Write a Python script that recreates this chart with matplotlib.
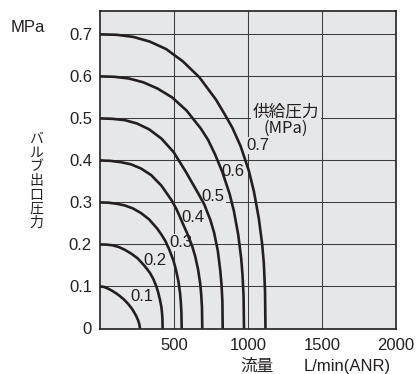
import matplotlib
matplotlib.use("Agg")
import matplotlib.pyplot as plt

plt.rcParams['font.family'] = ['Liberation Sans', 'Noto Sans CJK JP', 'DejaVu Sans']

# supply pressure curves: flow (L/min ANR) vs outlet pressure (MPa)
flow_01 = [0, 27, 54, 81, 108, 135, 162, 189, 216, 230, 243, 257, 265, 270]
pres_01 = [0.100, 0.099, 0.095, 0.090, 0.084, 0.077, 0.069, 0.059, 0.047, 0.039,
           0.031, 0.020, 0.011, 0]

flow_02 = [0, 42, 85, 127, 169, 212, 254, 296, 317, 338, 360, 381, 393, 406,
           415, 419, 422, 423]
pres_02 = [0.200, 0.1997, 0.198, 0.194, 0.187, 0.178, 0.167, 0.151, 0.142, 0.132,
           0.118, 0.100, 0.086, 0.067, 0.050, 0.037, 0.022, 0]

flow_03 = [0, 55, 110, 166, 221, 276, 331, 386, 414, 442, 469, 497, 513, 530,
           541, 546, 550, 552]
pres_03 = [0.300, 0.2995, 0.297, 0.293, 0.286, 0.275, 0.260, 0.238, 0.224, 0.208,
           0.187, 0.161, 0.140, 0.112, 0.084, 0.063, 0.038, 0]

flow_04 = [0, 69, 138, 207, 276, 346, 415, 484, 518, 553, 587, 622, 643, 663,
           677, 684, 689, 691]
pres_04 = [0.400, 0.399, 0.396, 0.391, 0.381, 0.365, 0.340, 0.305, 0.283, 0.255,
           0.228, 0.197, 0.172, 0.140, 0.107, 0.080, 0.050, 0]

flow_05 = [0, 83, 166, 249, 332, 415, 497, 580, 622, 663, 705, 746, 771, 796,
           812, 821, 827, 829]
pres_05 = [0.500, 0.499, 0.496, 0.488, 0.474, 0.452, 0.420, 0.373, 0.347, 0.322,
           0.295, 0.258, 0.228, 0.185, 0.140, 0.105, 0.064, 0]

flow_06 = [0, 97, 195, 292, 389, 487, 584, 681, 730, 778, 827, 876, 905, 934,
           954, 963, 970, 973]
pres_06 = [0.600, 0.599, 0.595, 0.586, 0.571, 0.550, 0.519, 0.476, 0.449, 0.414,
           0.372, 0.320, 0.279, 0.223, 0.167, 0.127, 0.077, 0]

flow_07 = [0, 112, 224, 335, 447, 559, 671, 783, 839, 894, 950, 1006, 1040, 1073,
           1096, 1107, 1115, 1118]
pres_07 = [0.700, 0.699, 0.694, 0.683, 0.665, 0.636, 0.598, 0.545, 0.512, 0.478,
           0.434, 0.375, 0.326, 0.262, 0.200, 0.155, 0.090, 0]

curve_flows = [flow_01, flow_02, flow_03, flow_04, flow_05, flow_06, flow_07]
curve_pres = [pres_01, pres_02, pres_03, pres_04, pres_05, pres_06, pres_07]

# curve labels and where they sit
curve_names = ['0.1', '0.2', '0.3', '0.4', '0.5', '0.6', '0.7']
name_x = [282, 372, 545, 630, 766, 901, 1064]
name_y = [0.075, 0.161, 0.204, 0.264, 0.314, 0.374, 0.436]

x_ticks = [500, 1000, 1500, 2000]
y_ticks = [0, 0.1, 0.2, 0.3, 0.4, 0.5, 0.6, 0.7]
y_tick_labels = ['0', '0.1', '0.2', '0.3', '0.4', '0.5', '0.6', '0.7']

bg = '#e6e7e8'
ink = '#231f20'

fig = plt.figure(figsize=(4.18, 3.74), dpi=100)
ax = fig.add_axes([100 / 418, 1 - 328.5 / 374, 296 / 418, 317.5 / 374])
ax.set_facecolor(bg)
ax.set_xlim(0, 2000)
ax.set_ylim(0, 0.7556)

ax.set_xticks(x_ticks)
ax.set_yticks(y_ticks)
ax.set_yticklabels(y_tick_labels)
ax.tick_params(axis='x', length=0, pad=6.8, labelsize=12, colors=ink)
ax.tick_params(axis='y', length=0, pad=5.8, labelsize=12, colors=ink)
ax.grid(True, color='#3c3c3c', linewidth=0.75, zorder=1)
ax.set_axisbelow(True)
for s in ax.spines.values():
    s.set_color(ink)
    s.set_linewidth(1.2)

for fx, py in zip(curve_flows, curve_pres):
    ax.plot(fx, py, color=ink, linewidth=1.9, solid_joinstyle='round',
            solid_capstyle='butt', zorder=4)

for name, tx, ty in zip(curve_names, name_x, name_y):
    ax.text(tx, ty, name, fontsize=12, ha='center', va='center', color=ink,
            zorder=3, bbox=dict(facecolor=bg, edgecolor='none', pad=0.6))

ax.text(1257, 0.497, '供給圧力\n(MPa)', fontsize=12, ha='center', va='center',
        color=ink, linespacing=0.95, zorder=3,
        family=['Noto Sans CJK JP', 'Liberation Sans'],
        bbox=dict(facecolor=bg, edgecolor='none', pad=1.5))

fig.text(27.5 / 418, 1 - 27 / 374, 'MPa', fontsize=12, ha='center', va='center',
         color=ink)
fig.text(36 / 418, 1 - 180.5 / 374, '\n'.join('バルブ出口圧力'), fontsize=10,
         ha='center', va='center', linespacing=1.0, color=ink,
         family=['Noto Sans CJK JP'])
fig.text(256.5 / 418, 3 / 374, '流量', fontsize=12, ha='center', va='baseline',
         color=ink, family=['Noto Sans CJK JP'])
fig.text(347.5 / 418, 3 / 374, 'L/min(ANR)', fontsize=12, ha='center',
         va='baseline', color=ink)

fig.savefig('out.png', dpi=100, facecolor='white')
